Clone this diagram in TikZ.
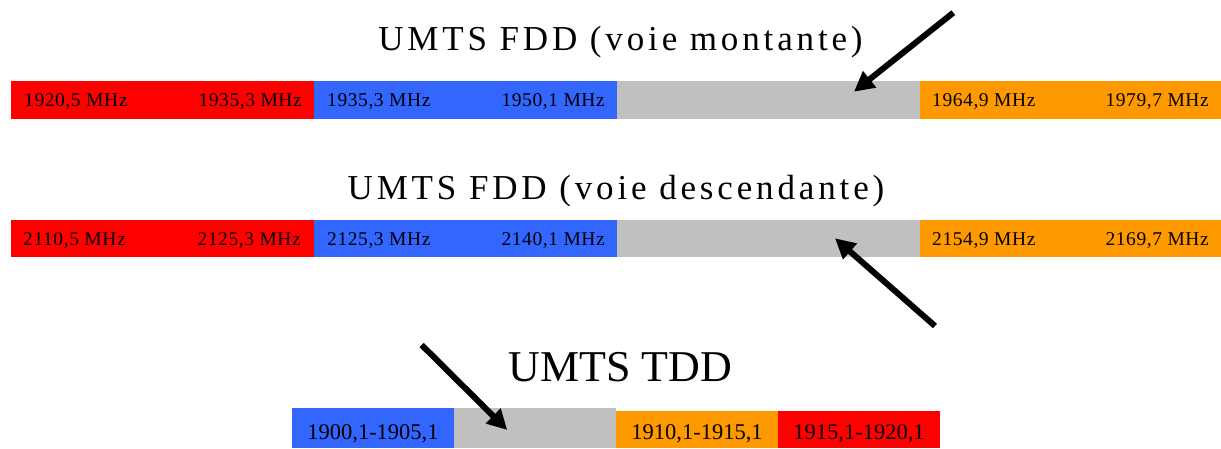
\documentclass[tikz,border=0pt]{standalone}
\usepackage{fontspec}
\setmainfont{Liberation Serif}
\newfontfamily\titlefont[LetterSpace=11]{Liberation Serif}
\newfontfamily\labfont[LetterSpace=3]{Liberation Serif}
\usetikzlibrary{arrows.meta}
\definecolor{bandred}{HTML}{FF0000}
\definecolor{bandblue}{HTML}{3366FF}
\definecolor{bandgray}{HTML}{C0C0C0}
\definecolor{bandorange}{HTML}{FF9900}
\begin{document}
\begin{tikzpicture}[x=1pt,y=1pt,
  seg/.style={inner sep=0pt,outer sep=0pt,anchor=south west,minimum width=303pt,minimum height=38pt},
  segs/.style={inner sep=0pt,outer sep=0pt,anchor=south west,minimum width=162pt,minimum height=40pt},
  lab/.style={inner sep=0pt,font=\labfont\fontsize{19.5}{22}\selectfont},
  labb/.style={inner sep=0pt,anchor=base,font=\fontsize{22.5}{26}\selectfont},
  ttl/.style={inner sep=0pt,anchor=base,font=\titlefont\fontsize{35}{41}\selectfont},
  ttlb/.style={inner sep=0pt,anchor=base,font=\fontsize{44}{50}\selectfont},
  pointer/.style={line width=6pt,-{Triangle[length=20pt,width=20pt]}}]
\useasboundingbox (0,0) rectangle (1221,448);
% Row 1
\node[ttl] (t1) at (620.5,397.5) {UMTS FDD (voie montante)};
\node[seg,fill=bandred] (r1) at (11,329) {};
\node[seg,fill=bandblue] (b1) at (314,329) {};
\node[seg,fill=bandgray] (g1) at (617,329) {};
\node[seg,fill=bandorange,minimum width=301pt] (o1) at (920,329) {};
\node[lab,anchor=base west] (r1a) at (24,341.3) {1920,5 MHz};
\node[lab,anchor=base east] (r1b) at (302,341.3) {1935,3 MHz};
\node[lab,anchor=base west] (b1a) at (327,341.3) {1935,3 MHz};
\node[lab,anchor=base east] (b1b) at (605,341.3) {1950,1 MHz};
\node[lab,anchor=base west] (o1a) at (932,341.3) {1964,9 MHz};
\node[lab,anchor=base east] (o1b) at (1209,341.3) {1979,7 MHz};
% Row 2
\node[ttl] (t2) at (616,249) {UMTS FDD (voie descendante)};
\node[seg,fill=bandred,minimum height=36.5pt] (r2) at (11,191.3) {};
\node[seg,fill=bandblue,minimum height=36.5pt] (b2) at (314,191.3) {};
\node[seg,fill=bandgray,minimum height=36.5pt] (g2) at (617,191.3) {};
\node[seg,fill=bandorange,minimum width=301pt,minimum height=36.5pt] (o2) at (920,191.3) {};
\node[lab,anchor=base west] (r2a) at (23,202.7) {2110,5 MHz};
\node[lab,anchor=base east] (r2b) at (301,202.7) {2125,3 MHz};
\node[lab,anchor=base west] (b2a) at (327,202.7) {2125,3 MHz};
\node[lab,anchor=base east] (b2b) at (605,202.7) {2140,1 MHz};
\node[lab,anchor=base west] (o2a) at (932,202.7) {2154,9 MHz};
\node[lab,anchor=base east] (o2b) at (1209,202.7) {2169,7 MHz};
% Row 3
\node[ttlb] (t3) at (620.5,66.3) {UMTS TDD};
\node[segs,fill=bandblue] (b3) at (292,0) {};
\node[segs,fill=bandgray] (g3) at (454,0) {};
\node[segs,fill=bandorange,minimum height=37pt] (o3) at (616,0) {};
\node[segs,fill=bandred,minimum height=37pt] (r3) at (778,0) {};
\node[labb] (b3l) at (373,8.7) {1900,1-1905,1};
\node[labb] (o3l) at (697,8.7) {1910,1-1915,1};
\node[labb] (r3l) at (859,8.7) {1915,1-1920,1};
% Arrows
\coordinate (a1s) at (953.3,435.3);
\coordinate (a1e) at (854,356.3);
\coordinate (a2s) at (935,122);
\coordinate (a2e) at (835,209.7);
\coordinate (a3s) at (421.7,103);
\coordinate (a3e) at (507.3,18);
\draw[pointer] (a1s) -- (a1e);
\draw[pointer] (a2s) -- (a2e);
\draw[pointer] (a3s) -- (a3e);
\end{tikzpicture}
\end{document}
